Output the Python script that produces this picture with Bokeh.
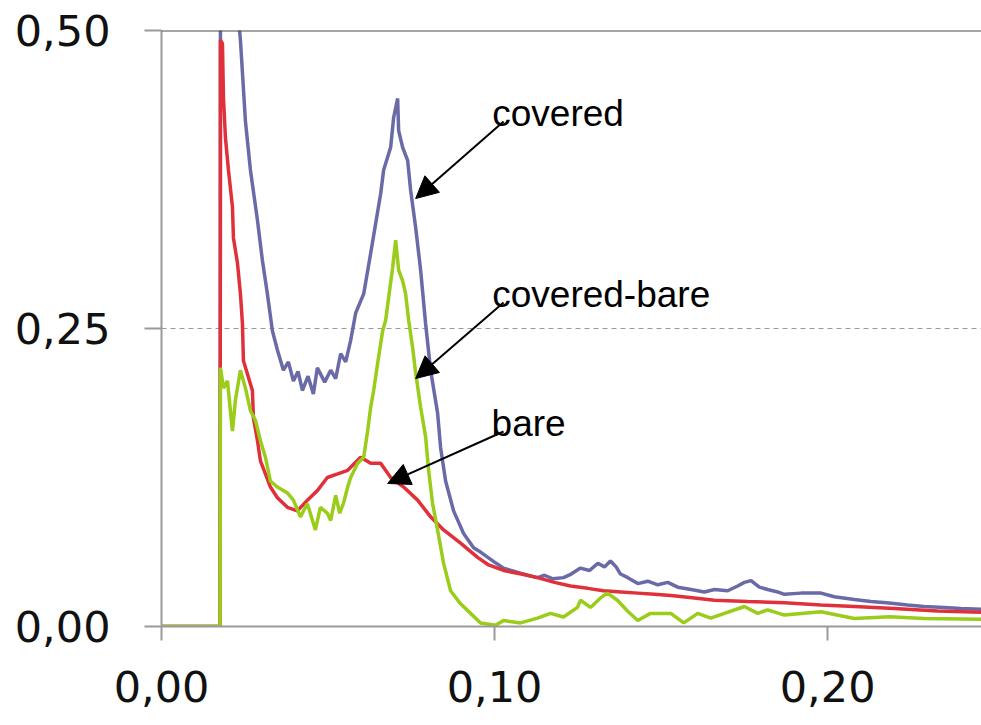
from bokeh.plotting import figure
from bokeh.models import (FixedTicker, CustomJSTickFormatter, Span,
                          Label, Arrow, NormalHead, Range1d)
from bokeh.embed import file_html
from bokeh.resources import INLINE

# ---- data ----
covered_x = [0, 0.0176, 0.0177, 0.0228, 0.0237, 0.0252, 0.0267, 0.0288, 0.0303, 0.0318,
             0.0333, 0.0348, 0.0366, 0.0381, 0.0396, 0.0410, 0.0423, 0.0440, 0.0456, 0.0468,
             0.0490, 0.0508, 0.0523, 0.0538, 0.0553, 0.0568, 0.0583, 0.0607, 0.0628, 0.0658,
             0.0667, 0.0688, 0.0697, 0.0709, 0.0712, 0.0724, 0.0739, 0.0748, 0.0763, 0.0778,
             0.0793, 0.0808, 0.0829, 0.0838, 0.0853, 0.0877, 0.0907, 0.0937, 0.0960, 0.0985,
             0.1005, 0.1027, 0.1050, 0.1075, 0.1100, 0.1129, 0.1150, 0.1175, 0.1207, 0.1230,
             0.1258, 0.1285, 0.1310, 0.1330, 0.1348, 0.1365, 0.1378, 0.1400, 0.1430, 0.1460,
             0.1490, 0.1520, 0.1550, 0.1590, 0.1630, 0.1660, 0.1700, 0.1730, 0.1750, 0.1770,
             0.1795, 0.1820, 0.1850, 0.1870, 0.1920, 0.1980, 0.2020, 0.2080, 0.2130, 0.2185,
             0.2240, 0.2290, 0.2350, 0.2400, 0.2462]
covered_y = [0, 0, 0.52, 0.52, 0.492, 0.424, 0.383, 0.341, 0.307, 0.279,
             0.248, 0.232, 0.215, 0.222, 0.206, 0.214, 0.198, 0.210, 0.195, 0.217,
             0.205, 0.215, 0.208, 0.229, 0.222, 0.240, 0.263, 0.279, 0.313, 0.363,
             0.383, 0.402, 0.427, 0.443, 0.416, 0.402, 0.391, 0.366, 0.335, 0.299,
             0.254, 0.215, 0.179, 0.150, 0.122, 0.097, 0.078, 0.066, 0.062, 0.057,
             0.053, 0.049, 0.047, 0.045, 0.043, 0.041, 0.043, 0.040, 0.041, 0.044,
             0.049, 0.047, 0.053, 0.050, 0.055, 0.050, 0.044, 0.041, 0.036, 0.038,
             0.035, 0.037, 0.033, 0.031, 0.029, 0.031, 0.030, 0.034, 0.037, 0.0385,
             0.033, 0.031, 0.029, 0.027, 0.028, 0.028, 0.025, 0.0226, 0.021, 0.0197,
             0.018, 0.0168, 0.016, 0.015, 0.0145]

bare_x = [0, 0.0176, 0.0177, 0.0183, 0.0186, 0.0192, 0.0201, 0.0213, 0.0216, 0.0228,
          0.0237, 0.0243, 0.0246, 0.0261, 0.0273, 0.0276, 0.0288, 0.0297, 0.0312, 0.0327,
          0.0348, 0.0378, 0.0408, 0.0438, 0.0468, 0.0498, 0.0529, 0.0559, 0.0598, 0.0628,
          0.0658, 0.0688, 0.0727, 0.0769, 0.0808, 0.0847, 0.0898, 0.0949, 0.0980, 0.1027,
          0.1080, 0.1129, 0.1180, 0.1228, 0.1280, 0.1327, 0.1380, 0.1430, 0.1480, 0.1530,
          0.1600, 0.1660, 0.1760, 0.1870, 0.1980, 0.2080, 0.2200, 0.2330, 0.2462]
bare_y = [0, 0, 0.492, 0.489, 0.444, 0.410, 0.383, 0.352, 0.326, 0.305,
          0.279, 0.254, 0.223, 0.209, 0.198, 0.175, 0.156, 0.139, 0.128, 0.117,
          0.108, 0.100, 0.097, 0.106, 0.114, 0.125, 0.128, 0.131, 0.142, 0.137,
          0.137, 0.125, 0.117, 0.106, 0.092, 0.081, 0.070, 0.058, 0.052, 0.047,
          0.044, 0.041, 0.037, 0.034, 0.032, 0.030, 0.029, 0.028, 0.027, 0.026,
          0.024, 0.022, 0.021, 0.020, 0.018, 0.0168, 0.015, 0.013, 0.012]

diff_x = [0, 0.0176, 0.0177, 0.0186, 0.0198, 0.0213, 0.0222, 0.0237, 0.0252, 0.0267,
          0.0282, 0.0297, 0.0312, 0.0327, 0.0348, 0.0378, 0.0396, 0.0417, 0.0438, 0.0462,
          0.0477, 0.0498, 0.0508, 0.0523, 0.0535, 0.0547, 0.0559, 0.0568, 0.0589, 0.0607,
          0.0619, 0.0628, 0.0637, 0.0649, 0.0664, 0.0673, 0.0682, 0.0694, 0.0703, 0.0712,
          0.0724, 0.0733, 0.0742, 0.0754, 0.0763, 0.0778, 0.0793, 0.0802, 0.0814, 0.0829,
          0.0847, 0.0868, 0.0898, 0.0928, 0.0958, 0.1003, 0.1027, 0.1078, 0.1129, 0.1168,
          0.1207, 0.1249, 0.1258, 0.1288, 0.1318, 0.1339, 0.1369, 0.1399, 0.1430, 0.1468,
          0.1529, 0.1568, 0.1610, 0.1649, 0.1750, 0.1790, 0.1820, 0.1870, 0.1980, 0.2080,
          0.2185, 0.2290, 0.2462]
diff_y = [0, 0, 0.217, 0.200, 0.206, 0.164, 0.190, 0.215, 0.200, 0.181,
          0.173, 0.156, 0.142, 0.122, 0.117, 0.112, 0.106, 0.092, 0.103, 0.081,
          0.100, 0.095, 0.089, 0.110, 0.095, 0.104, 0.117, 0.125, 0.137, 0.142,
          0.164, 0.184, 0.198, 0.221, 0.248, 0.257, 0.276, 0.301, 0.324, 0.299,
          0.290, 0.279, 0.257, 0.234, 0.213, 0.184, 0.159, 0.131, 0.103, 0.081,
          0.053, 0.030, 0.019, 0.011, 0.003, 0.001, 0.005, 0.003, 0.007, 0.011,
          0.008, 0.016, 0.022, 0.016, 0.024, 0.028, 0.022, 0.013, 0.005, 0.011,
          0.011, 0.003, 0.011, 0.007, 0.0168, 0.011, 0.0139, 0.0096, 0.0124, 0.0067,
          0.0081, 0.0067, 0.006]

y_ticks = [0, 0.25, 0.5]
x_ticks = [0, 0.1, 0.2]

BLUE = "#6a6aa8"
RED = "#e0313b"
GREEN = "#9acc1a"

p = figure(width=981, height=724, output_backend="svg", toolbar_location=None,
           x_range=Range1d(0, 0.2462), y_range=Range1d(0, 0.5),
           min_border_left=161, min_border_right=0, min_border_top=30, min_border_bottom=98)
p.outline_line_color = None
p.background_fill_color = "white"

p.line(covered_x, covered_y, line_color=BLUE, line_width=3.5)
p.line(bare_x, bare_y, line_color=RED, line_width=3.5)
p.line(diff_x, diff_y, line_color=GREEN, line_width=3.5)

fmt = CustomJSTickFormatter(code="return tick.toFixed(2).replace('.', ',');")

for ax in (p.xaxis[0], p.yaxis[0]):
    ax.formatter = fmt
    ax.axis_line_color = "#9a9a9a"
    ax.axis_line_width = 2
    ax.major_tick_line_color = "#9a9a9a"
    ax.major_tick_line_width = 2
    ax.major_tick_in = 0
    ax.minor_tick_line_color = None
    ax.major_label_text_font = "DejaVu Sans"
    ax.major_label_text_font_size = "43px"
    ax.major_label_text_color = "#111111"

p.xaxis.ticker = FixedTicker(ticks=x_ticks)
p.yaxis.ticker = FixedTicker(ticks=y_ticks)
p.yaxis.major_tick_out = 17
p.xaxis.major_tick_out = 14
p.yaxis.major_label_standoff = 34
p.xaxis.major_label_standoff = 30

p.xgrid.grid_line_color = None
p.ygrid.ticker = FixedTicker(ticks=[0.25])
p.ygrid.grid_line_color = "#9a9a9a"
p.ygrid.grid_line_dash = "5 4"
p.ygrid.grid_line_width = 1

p.add_layout(Span(location=0.5, dimension="width", line_color="#4d4d4d", line_width=2))

labels = [("covered", 0.0993, 0.430), ("covered-bare", 0.0993, 0.2785), ("bare", 0.0991, 0.170)]
for txt, lx, ly in labels:
    p.add_layout(Label(x=lx, y=ly, text=txt, text_font="Liberation Sans", text_font_size="37px",
                       text_baseline="alphabetic", text_align="left", text_color="black"))

arrows = [(0.1027, 0.4237, 0.0763, 0.359),
          (0.1027, 0.2718, 0.0763, 0.208),
          (0.1027, 0.1636, 0.0679, 0.120)]
for xs, ys, xe, ye in arrows:
    p.add_layout(Arrow(x_start=xs, y_start=ys, x_end=xe, y_end=ye, line_color="black", line_width=2,
                       end=NormalHead(size=22, fill_color="black", line_color="black", line_width=1)))

open("out.html", "w").write(file_html(p, INLINE))
